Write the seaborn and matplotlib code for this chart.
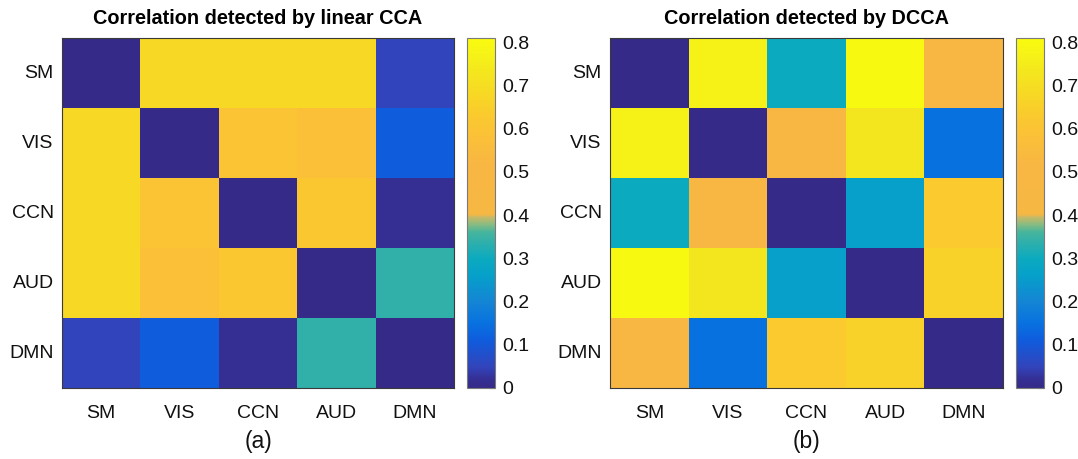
import numpy as np
import pandas as pd
import matplotlib
matplotlib.use("Agg")
import matplotlib.pyplot as plt
import seaborn as sns
from matplotlib.colors import LinearSegmentedColormap, to_rgb

labels = ["SM", "VIS", "CCN", "AUD", "DMN"]

cca_values = [
    [0.00, 0.68, 0.68, 0.68, 0.05],
    [0.68, 0.00, 0.60, 0.58, 0.11],
    [0.68, 0.60, 0.00, 0.62, 0.02],
    [0.68, 0.58, 0.62, 0.00, 0.34],
    [0.05, 0.11, 0.02, 0.34, 0.00],
]

dcca_values = [
    [0.00, 0.77, 0.30, 0.80, 0.52],
    [0.77, 0.00, 0.52, 0.73, 0.15],
    [0.30, 0.52, 0.00, 0.26, 0.63],
    [0.80, 0.73, 0.26, 0.00, 0.66],
    [0.52, 0.15, 0.63, 0.66, 0.00],
]

titles = ["Correlation detected by linear CCA", "Correlation detected by DCCA"]
captions = ["(a)", "(b)"]
cbar_ticks = [0, 0.1, 0.2, 0.3, 0.4, 0.5, 0.6, 0.7, 0.8]
cbar_ticklabels = ["0", "0.1", "0.2", "0.3", "0.4", "0.5", "0.6", "0.7", "0.8"]

VMIN, VMAX = 0.0, 0.81
anchors = [
    (0.000, "#352A87"),
    (0.020, "#352F95"),
    (0.050, "#3145BC"),
    (0.110, "#0F5CDD"),
    (0.150, "#0872E0"),
    (0.200, "#1485D4"),
    (0.260, "#06A0CA"),
    (0.300, "#0CAABF"),
    (0.340, "#32B0AA"),
    (0.360, "#45B59D"),
    (0.380, "#8DBB80"),
    (0.395, "#C8BA66"),
    (0.402, "#F6B743"),
    (0.520, "#F8B742"),
    (0.580, "#FBC038"),
    (0.620, "#FAC730"),
    (0.670, "#F8D526"),
    (0.730, "#F4E61E"),
    (0.770, "#F6F218"),
    (0.810, "#F9FB0E"),
]
cmap = LinearSegmentedColormap.from_list(
    "custom_parula",
    [((v - VMIN) / (VMAX - VMIN), to_rgb(c)) for v, c in anchors],
    N=512,
)

sns.set_theme(style="white")
plt.rcParams["font.family"] = ["Liberation Sans", "DejaVu Sans"]

fig = plt.figure(figsize=(10.78, 4.59), dpi=100)

ax_pos = [
    [62 / 1078, 71 / 459, 392 / 1078, 350 / 459],
    [610 / 1078, 71 / 459, 393 / 1078, 350 / 459],
]
cax_pos = [
    [467 / 1078, 71 / 459, 28 / 1078, 350 / 459],
    [1016 / 1078, 71 / 459, 28 / 1078, 350 / 459],
]

frame_col = "#3a3a3a"
for i, vals in enumerate([cca_values, dcca_values]):
    df = pd.DataFrame(vals, index=labels, columns=labels)
    ax = fig.add_axes(ax_pos[i])
    cax = fig.add_axes(cax_pos[i])
    sns.heatmap(df, ax=ax, cbar_ax=cax, cmap=cmap, vmin=VMIN, vmax=VMAX,
                square=False, xticklabels=labels, yticklabels=labels,
                cbar_kws={"ticks": cbar_ticks})
    for s in ax.spines.values():
        s.set_visible(True)
        s.set_color(frame_col)
        s.set_linewidth(0.8)
    ax.tick_params(axis="both", direction="in", length=4, width=0.8,
                   color=frame_col, top=True, right=True, bottom=True, left=True,
                   labelsize=14, labelcolor="#111111")
    ax.tick_params(axis="x", pad=12)
    ax.tick_params(axis="y", pad=6)
    ax.set_yticklabels(labels, rotation=0)
    ax.set_xticklabels(labels, rotation=0)
    ax.set_title(titles[i], fontsize=14.3, fontweight="bold", pad=10, color="black")
    ax.set_xlabel(captions[i], fontsize=16.5, labelpad=6, color="#111111")
    ax.set_ylabel("")

    cax.tick_params(direction="in", length=4, width=0.8, color=frame_col,
                    labelsize=14, labelcolor="#111111", right=True, left=False, pad=5)
    cax.set_yticklabels(cbar_ticklabels)
    cb = ax.collections[0].colorbar
    cb.outline.set_visible(True)
    cb.outline.set_edgecolor("#7a7a7a")
    cb.outline.set_linewidth(0.8)

fig.savefig("out.png", dpi=100)
